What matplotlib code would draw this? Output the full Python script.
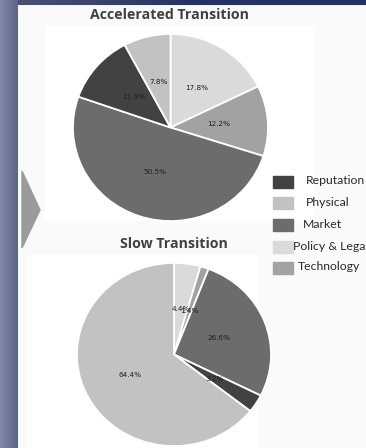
import matplotlib
matplotlib.use("Agg")
import matplotlib.pyplot as plt  # noqa: E402
import numpy as np  # noqa: E402
from matplotlib.patches import Polygon, Rectangle  # noqa: E402

W, H = 366, 448

# 리스크 유형 (범례 순서)
risk_types = ["Reputation", "Physical", "Market", "Policy & Legal", "Technology"]
risk_colors = {
    "Reputation": "#424242",
    "Physical": "#c2c2c2",
    "Market": "#6c6c6c",
    "Policy & Legal": "#dadada",
    "Technology": "#a2a2a2",
}

# 시나리오별 비중 (12시 방향에서 시계방향)
fast_title = "Accelerated Transition"
fast_order = ["Policy & Legal", "Technology", "Market", "Reputation", "Physical"]
fast_pct = [17.8, 12.2, 50.5, 11.9, 7.8]

slow_title = "Slow Transition"
slow_order = ["Policy & Legal", "Technology", "Market", "Reputation", "Physical"]
slow_pct = [4.4, 1.4, 26.6, 3.2, 64.4]


def px_axes(fig, x0, y0, x1, y1):
    """픽셀 좌표(좌상단 기준)로 axes 생성"""
    return fig.add_axes([x0 / W, 1 - y1 / H, (x1 - x0) / W, (y1 - y0) / H])


def draw_pie(ax, order, pct):
    labels = iter(f"{v:.1f}%" for v in pct)
    ax.pie(
        pct,
        colors=[risk_colors[k] for k in order],
        startangle=90,
        counterclock=False,
        autopct=lambda _: next(labels),
        pctdistance=0.5,
        wedgeprops=dict(edgecolor="white", linewidth=1.3),
        textprops=dict(fontsize=5.2, color="#1e1e1e", family="DejaVu Sans"),
    )
    ax.set_aspect("auto")
    ax.set_xlim(-1.01, 1.01)
    ax.set_ylim(-1.01, 1.01)
    ax.axis("off")


fig = plt.figure(figsize=(W / 100, H / 100), dpi=100)
fig.patch.set_facecolor("#fafafa")

# --- 배경: 좌측/상단 띠, 흰 판, 화살표 ---
bg = fig.add_axes([0, 0, 1, 1], zorder=0)
bg.set_xlim(0, W)
bg.set_ylim(H, 0)
bg.axis("off")

side = np.linspace(0, 1, 18)[None, :]
bg.imshow(side, cmap=matplotlib.colors.LinearSegmentedColormap.from_list(
    "side", ["#8087a6", "#5d6488"]), extent=(0, 18, H, 0), aspect="auto")
top = np.linspace(0, 1, 200)[None, :]
bg.imshow(top, cmap=matplotlib.colors.LinearSegmentedColormap.from_list(
    "top", ["#4a5078", "#263262", "#263262"]), extent=(18, W, 5, 0), aspect="auto")

bg.add_patch(Rectangle((45, 26), 268, 194, color="white", zorder=1))
bg.add_patch(Rectangle((27, 255), 230, 193, color="white", zorder=1))
bg.add_patch(Polygon([(22, 171), (40, 210), (22, 248)], closed=True,
                     color="#9b9b9b", zorder=2))

bg.text(169, 15, fast_title, ha="center", va="center", fontsize=10.2,
        fontweight="bold", color="#404040", family="Open Sans", zorder=3)
bg.text(174, 244, slow_title, ha="center", va="center", fontsize=10.2,
        fontweight="bold", color="#404040", family="Open Sans", zorder=3)

# --- 범례 ---
leg_y = [182, 203, 225, 247, 268]
leg_tx = [306, 306, 303, 293, 298]
for name, y, tx in zip(risk_types, leg_y, leg_tx):
    bg.add_patch(Rectangle((273, y - 6), 20, 12, color=risk_colors[name], zorder=3))
    bg.text(tx, y - 1, name, ha="left", va="center", fontsize=8.8,
            color="#2a2a2a", family="Lato", zorder=3)

# --- 파이 차트 ---
ax1 = px_axes(fig, 72, 33, 269, 222)
draw_pie(ax1, fast_order, fast_pct)

ax2 = px_axes(fig, 76, 262, 272, 447)
draw_pie(ax2, slow_order, slow_pct)

fig.savefig("out.png", dpi=100)
plt.close(fig)
